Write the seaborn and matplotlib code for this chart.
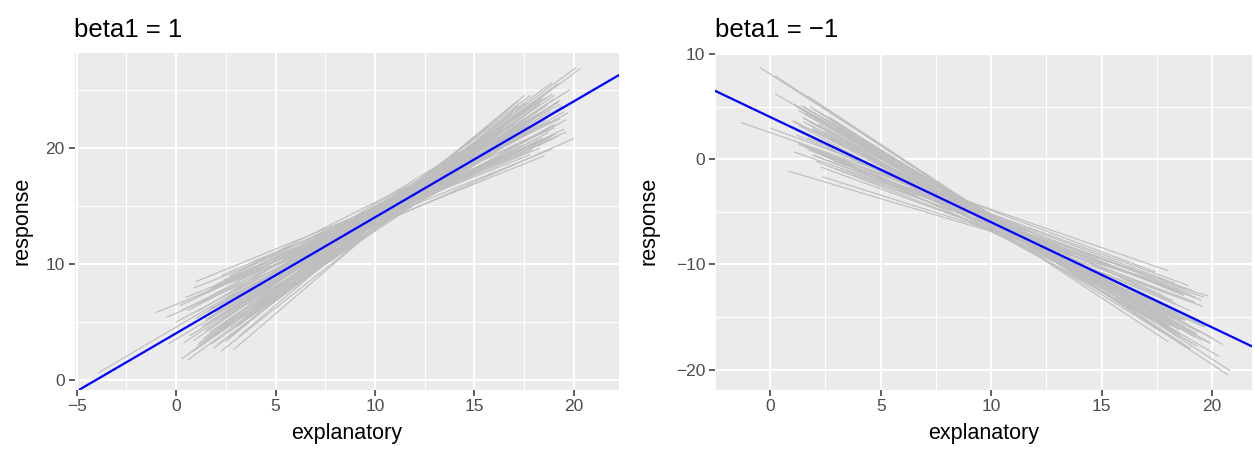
import numpy as np
import pandas as pd
import matplotlib
matplotlib.use("Agg")
import matplotlib.pyplot as plt
import seaborn as sns

# ---------------- data ----------------
titles = ["beta1 = 1", "beta1 = \u22121"]
true_intercept = 4
true_slopes = [1, -1]

# left panel (beta1 = 1): fitted-line segments, start/end points
L_x0 = [-1.0, -0.45, 0.5, 0.9, 1.6, 1.2, 2.0, 2.8, 3.9, 0.3, 1.8, 2.4, 3.2, 0.0, -0.37, -3.9,
        1.0, 1.5, 2.2, 2.6, 1.3, 3.5, 0.3, 0.6, 0.8, 1.1, 1.4, 2.5, 2.9, 1.9, 2.1, 3.1, 1.7,
        0.9, 3.4, 2.7, 4.0, 1.5, 2.3, 0.7,
        1.2, 2.0, 1.5, 2.6, 3.0, 2.2, 3.6, 0.6, 2.9, 1.8, 2.3, 1.3, 3.3, 0.4, 1.7, 3.8,
        1.1, 2.7, 3.1, 0.8, 2.1, 1.4, 3.7, 0.9, 2.5, 1.9, 3.4, 2.8, 1.6, 3.2, 0.2, 2.4,
        3.5, 1.2, 2.0, 1.0, 2.3, 3.9, 1.5, 2.6]
L_y0 = [5.8, 5.4, 7.1, 7.9, 7.6, 7.3, 8.2, 8.8, 10.2, 6.0, 7.9, 8.6, 9.4, 4.97, 3.1, 0.6,
        5.3, 5.2, 6.4, 6.0, 4.6, 7.4, 1.8, 1.7, 2.4, 3.0, 3.6, 3.3, 2.6, 3.8, 4.4, 4.6, 4.1,
        3.4, 5.4, 4.2, 6.0, 5.8, 5.2, 3.8,
        7.3, 5.86, 4.74, 3.59, 8.4, 4.4, 6.5, 5.96, 7.7, 3.1, 9.0, 3.0, 7.26, 3.2, 6.14, 5.24,
        5.9, 8.93, 5.34, 6.33, 3.05, 7.45, 7.6, 2.53, 6.95, 2.72, 9.6, 4.54, 5.2, 3.8, 6.4, 6.42,
        7.32, 3.2, 5.25, 8.46, 2.5, 8.82, 4.25, 7.05]
L_x1 = [18.5, 20.0, 18.9, 17.8, 19.2, 18.6, 19.1, 18.3, 17.9, 19.5, 19.3, 18.9, 19.0, 19.7,
        18.8, 18.2, 19.2, 18.8, 17.6, 19.4, 18.0, 18.4, 20.1, 20.3, 19.3, 19.0, 18.4, 17.0,
        17.2, 17.7, 18.1, 17.5, 19.0, 18.6, 16.9, 18.0, 17.8, 19.6, 18.7, 17.5,
        18.8, 19.0, 17.4, 17.6, 19.6, 18.2, 18.9, 17.9, 17.3, 19.1, 18.0, 17.8, 19.5, 18.5,
        18.4, 17.2, 17.0, 19.3, 18.7, 18.1, 18.3, 19.0, 19.8, 17.6, 18.6, 18.0, 17.7, 19.4,
        17.9, 17.5, 18.2, 18.9, 18.7, 19.2, 17.1, 18.8, 18.5, 19.3, 18.2, 17.4]
L_y1 = [19.3, 20.8, 19.9, 19.4, 21.0, 20.7, 21.2, 20.0, 19.8, 21.6, 22.1, 21.0, 21.7, 23.0,
        23.1, 22.9, 23.9, 23.5, 21.8, 23.4, 22.5, 22.7, 26.9, 26.8, 24.1, 24.2, 24.2, 23.8,
        23.6, 23.6, 24.0, 23.4, 24.5, 24.3, 23.0, 23.9, 23.2, 22.4, 22.6, 21.5,
        22.26, 22.0, 23.0, 23.84, 21.35, 22.0, 25.6, 21.5, 22.8, 23.9, 20.3, 24.5, 23.1, 23.5,
        20.8, 24.0, 22.1, 22.5, 23.75, 22.4, 23.8, 20.8, 25.0, 22.9, 22.4, 24.0, 21.9, 23.6,
        21.5, 24.5, 20.8, 24.6, 21.3, 25.5, 21.25, 20.9, 24.5, 23.76, 23.6, 20.2]

# right panel (beta1 = -1)
R_x0 = [-0.45, 0.24, 0.24, 1.1, 1.7, 1.5, 2.5, 1.6, 2.0, 1.3, 1.8, 2.2, 3.0, 1.5, 2.4, 1.9,
        3.5, 1.4, 2.8, 1.0, 2.1, 1.2, 2.6, -1.31, 0.03, 0.84, 2.3, 2.4, 1.1, 1.6, 2.0, 1.3,
        2.9, 3.2, 1.7, 2.5,
        1.5, 2.0, 1.2, 2.4, 1.8, 1.0, 2.7, 1.6, 3.1, 1.3, 2.2, 1.9, 2.9, 1.4, 2.6, 1.1,
        1.7, 2.3, 3.3, 1.5, 2.1, 2.5, 1.8, 1.2, 2.8, 1.6, 1.9, 1.3, 3.0, 2.0]
R_y0 = [8.7, 7.9, 6.2, 5.2, 6.0, 5.0, 3.8, 4.3, 4.0, 4.6, 3.6, 3.3, 3.0, 3.9, 2.6, 2.9,
        2.2, 5.1, 1.9, 3.1, 1.8, 2.7, 1.1, 3.47, 2.95, -1.15, -0.76, -1.7, 0.67, 1.2, 0.3, 1.5,
        -0.2, -0.9, 0.9, 0.2,
        3.55, 0.9, 5.0, 0.58, 3.24, 3.6, 3.96, 1.18, 2.74, 1.4, 3.74, 2.8, -0.87, 4.72, 0.5, 3.59,
        2.0, 4.36, 0.0, 3.93, -0.22, 2.5, 5.02, 2.3, 1.18, 4.85, 0.42, 3.2, 1.14, 4.7]
R_x1 = [20.8, 20.7, 20.3, 20.46, 19.0, 19.5, 19.9, 18.5, 18.8, 19.2, 20.0, 17.9, 18.4, 18.0,
        19.3, 18.7, 19.1, 18.2, 17.6, 18.6, 19.4, 17.8, 18.9, 18.0, 17.4, 19.8, 19.55, 19.6,
        19.1, 18.9, 19.5, 18.3, 18.8, 19.2, 18.7, 18.4,
        18.6, 19.0, 18.2, 17.9, 19.3, 18.4, 17.5, 19.6, 18.8, 18.0, 18.9, 17.7, 19.2, 19.9,
        18.3, 17.3, 18.7, 18.1, 19.7, 18.5, 18.2, 19.4, 18.0, 17.8, 18.9, 17.6, 19.0, 18.6,
        18.4, 19.1]
R_y1 = [-20.1, -20.5, -18.75, -17.6, -18.0, -17.2, -17.5, -16.2, -16.0, -16.9, -17.0, -15.0,
        -16.4, -15.8, -16.6, -15.3, -16.5, -15.7, -14.5, -14.6, -15.3, -13.7, -14.8, -10.6,
        -10.7, -13.0, -13.98, -13.1, -12.5, -12.0, -13.4, -11.8, -12.3, -13.6, -12.8, -12.5,
        -15.26, -14.4, -16.25, -11.82, -17.76, -13.8, -16.03, -15.92, -15.32, -12.8, -17.97,
        -13.79, -13.1, -17.48, -15.2, -14.23, -12.96, -15.87, -15.91, -16.13, -13.42, -16.43,
        -17.34, -12.98, -16.21, -14.67, -12.92, -16.69, -14.57, -17.53]


def segments_frame(x0, y0, x1, y1):
    rows = []
    for i, (a, b, c, d) in enumerate(zip(x0, y0, x1, y1)):
        rows.append({"seg": i, "explanatory": a, "response": b})
        rows.append({"seg": i, "explanatory": c, "response": d})
    return pd.DataFrame(rows)


panels = [
    dict(df=segments_frame(L_x0, L_y0, L_x1, L_y1), title=titles[0], slope=true_slopes[0],
         xlim=(-5.11, 22.26), ylim=(-0.85, 28.2),
         xt=[-5, 0, 5, 10, 15, 20], yt=[0, 10, 20],
         xm=[-2.5, 2.5, 7.5, 12.5, 17.5], ym=[5, 15, 25],
         box=(74.5, 618.7), ylab_x=-0.077),
    dict(df=segments_frame(R_x0, R_y0, R_x1, R_y1), title=titles[1], slope=true_slopes[1],
         xlim=(-2.47, 21.8), ylim=(-21.9, 10.12),
         xt=[0, 5, 10, 15, 20], yt=[-20, -10, 0, 10],
         xm=[-2.5, 2.5, 7.5, 12.5, 17.5], ym=[-15, -5, 5],
         box=(715.0, 1252.0), ylab_x=-0.104),
]

sns.set_theme(style="darkgrid")
plt.rcParams["font.family"] = ["Liberation Sans", "DejaVu Sans"]

W, H = 1255, 451
top_px, bot_px = 52.7, 389.5
fig = plt.figure(figsize=(W / 100, H / 100), dpi=100)
fig.patch.set_facecolor("white")

for p in panels:
    l, r = p["box"]
    ax = fig.add_axes([l / W, 1 - bot_px / H, (r - l) / W, (bot_px - top_px) / H])
    ax.set_facecolor("#EBEBEB")
    sns.lineplot(data=p["df"], x="explanatory", y="response", units="seg",
                 estimator=None, color="#BEBEBE", linewidth=0.85, sort=False,
                 legend=False, ax=ax)
    ax.axline((0, true_intercept), slope=p["slope"], color="blue", linewidth=1.6)
    ax.set_xlim(*p["xlim"])
    ax.set_ylim(*p["ylim"])
    ax.set_xticks(p["xt"])
    ax.set_yticks(p["yt"])
    ax.set_xticks(p["xm"], minor=True)
    ax.set_yticks(p["ym"], minor=True)
    ax.grid(which="major", color="white", linewidth=1.5)
    ax.grid(which="minor", color="white", linewidth=0.75)
    ax.set_axisbelow(True)
    for s in ax.spines.values():
        s.set_visible(False)
    ax.tick_params(which="major", bottom=True, left=True, length=4.5, width=1.1,
                   color="#333333", labelcolor="#4D4D4D", labelsize=12.5, pad=2.5,
                   direction="out")
    ax.tick_params(which="minor", length=0)
    ax.set_xlabel("explanatory", fontsize=15.5, color="black")
    ax.set_ylabel("response", fontsize=15.5, color="black")
    ax.xaxis.set_label_coords(0.5, -0.10)
    ax.yaxis.set_label_coords(p["ylab_x"], 0.5)
    ax.set_title(p["title"], loc="left", fontsize=18.5, color="black", pad=11)

fig.savefig("out.png", dpi=100)
